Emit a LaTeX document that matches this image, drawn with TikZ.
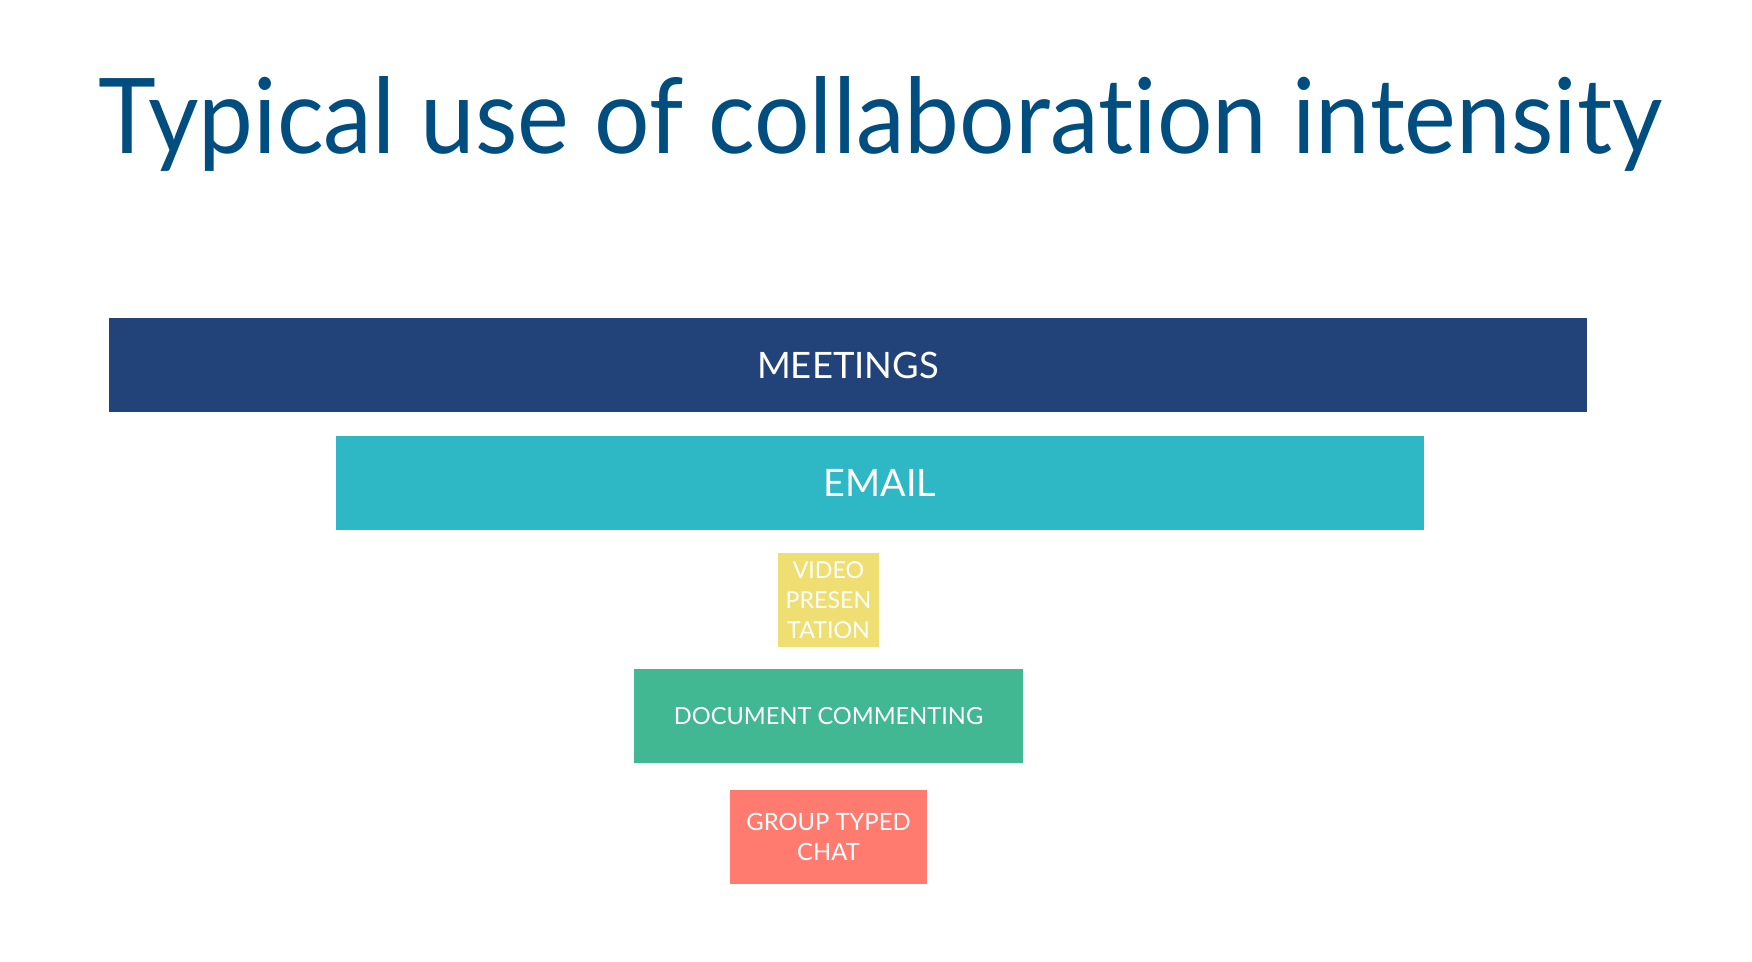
\documentclass[tikz,border=0pt]{standalone}
\usepackage{fontspec}
\setmainfont{Lato}

\definecolor{titleblue}{HTML}{004D80}
\definecolor{meetblue}{HTML}{22437A}
\definecolor{emailcyan}{HTML}{2EB8C6}
\definecolor{videoyellow}{HTML}{EFDF72}
\definecolor{docgreen}{HTML}{41B891}
\definecolor{chatred}{HTML}{FF7B70}

\begin{document}
\begin{tikzpicture}[
    x=0.5pt, y=-0.5pt,
    bar/.style={
        rectangle, inner sep=0pt, text=white,
        minimum height=47pt, align=center
    },
    bigbar/.style={bar, font=\fontsize{18.2}{22}\selectfont},
    smallbar/.style={bar, font=\fontsize{11.9}{15}\selectfont},
]

\fill[white] (0,0) rectangle (1752,962);
\useasboundingbox (0,0) rectangle (1752,962);

% pixel grid: 1 unit = 1px, y grows downwards
\node [anchor=base, inner sep=0pt, text=titleblue] (title) at (880.5,154)
    {\resizebox{781.5pt}{38.5pt}{Typical use of collabora\mbox{t}ion intensity}};

\node [bigbar, fill=meetblue, minimum width=739pt] (meet) at (848,365) {MEETINGS};
\node [bigbar, fill=emailcyan, minimum width=544pt,
       font=\fontsize{18.9}{22}\selectfont] (email) at (880,483) {EMAIL};
\node [smallbar, fill=videoyellow, minimum width=50.5pt,
       font=\fontsize{11.6}{15}\selectfont] (video) at (828.5,600) {VIDEO\\PRESEN\\TATION};
\node [smallbar, fill=docgreen, minimum width=194.5pt,
       font=\fontsize{11.8}{15}\selectfont] (doc) at (828.5,716) {DOCUMENT COMMENTING};
\node [smallbar, fill=chatred, minimum width=98.5pt] (chat) at (828.5,837) {GROUP TYPED\\CHAT};

\end{tikzpicture}
\end{document}
